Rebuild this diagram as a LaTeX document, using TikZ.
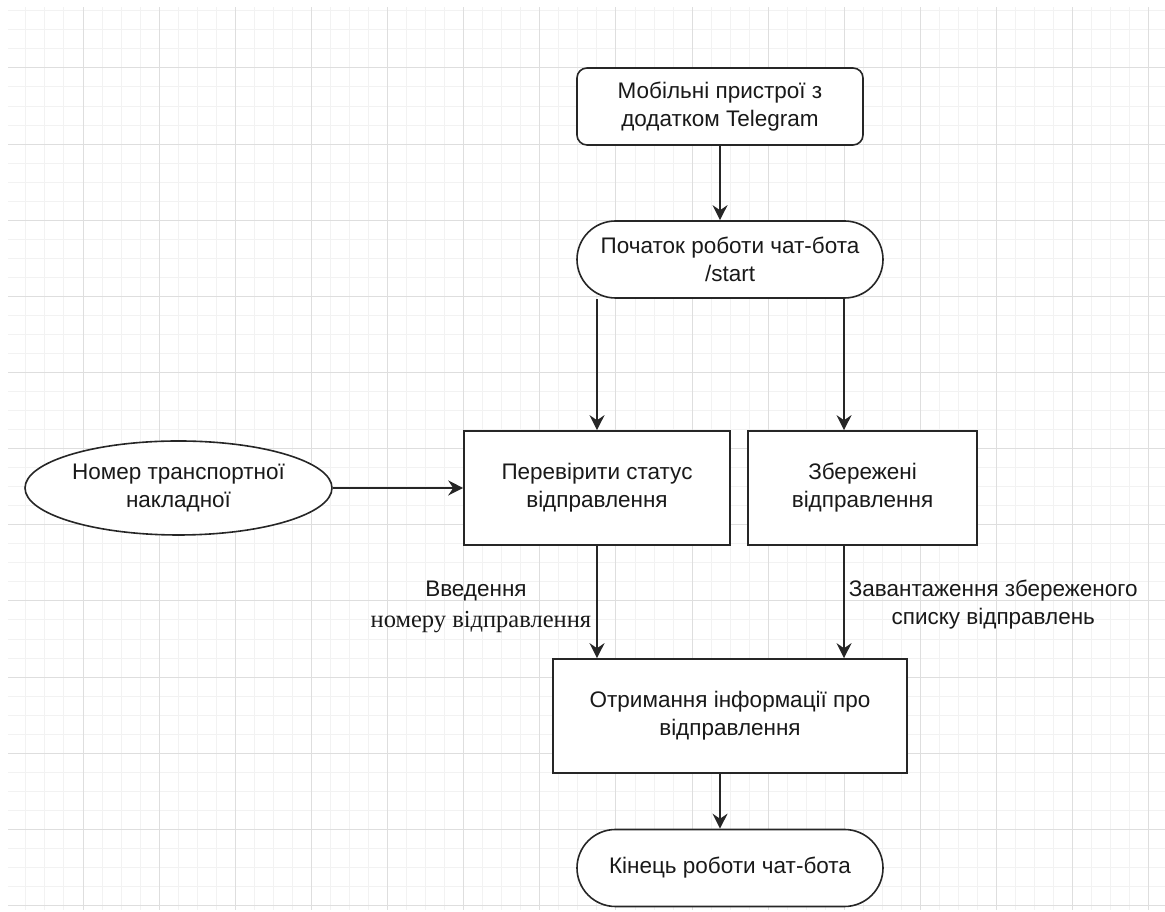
\documentclass[tikz,border=0pt]{standalone}
\usepackage{fontspec}
\setmainfont{Liberation Sans}
\newfontfamily\tnrfont{Liberation Serif}
\usetikzlibrary{arrows.meta, shapes.geometric}

\begin{document}
\begin{tikzpicture}[x=1pt, y=1pt, >={Stealth[length=15pt, width=15pt, inset=5pt]},
    every node/.style={font=\fontsize{22.5}{28}\selectfont, align=center, text=black!90},
    base/.style={draw=black!85, line width=1.6, fill=white, inner sep=0},
    box/.style={base, rectangle},
    term/.style={base, rectangle, rounded corners=38.5},
    link/.style={->, draw=black!85, line width=1.6}]
        \useasboundingbox (0,0) rectangle (1165,912);

        % Grid
        \begin{scope}
            \clip (8,2) rectangle (1165,904);
            \draw[black!5, line width=1, shift={(6.86,6.5)}] (-40,-40) grid[step=19.035pt] (1200,940);
            \draw[black!13, line width=1, shift={(6.86,6.5)}] (-80,-80) grid[step=76.14pt] (1200,940);
        \end{scope}

        % Nodes
        \node[box, rounded corners=10, minimum width=286, minimum height=77] (mob) at (720,805.5) {Мобільні пристрої з\\додатком Telegram};
        \node[term, minimum width=306, minimum height=77] (start) at (730,652.5) {Початок роботи чат-бота\\/start};
        \node[base, ellipse, minimum width=307, minimum height=94] (num) at (178.5,424) {Номер транспортної\\накладної};
        \node[box, minimum width=266, minimum height=114] (check) at (597,424) {Перевірити статус\\відправлення};
        \node[box, minimum width=229, minimum height=114] (saved) at (862.5,424) {Збережені\\відправлення};
        \node[box, minimum width=354, minimum height=114] (info) at (730,196) {Отримання інформації про\\відправлення};
        \node[term, minimum width=306, minimum height=77] (fin) at (730,44) {Кінець роботи чат-бота};
        \coordinate (c1) at (720,0);
        \coordinate (c2) at (844,0);

        % Edges
        \draw[link] (c1 |- mob.south) -- (c1 |- start.north);
        \draw[link] (check |- start.south) -- (check.north);
        \draw[link] (c2 |- start.south) -- (c2 |- saved.north);
        \draw[link] (num.east) -- (check.west);
        \draw[link] (check.south) -- (check.south |- info.north) node[midway, left, inner sep=5, yshift=-5] {Введення\hspace*{10pt}\\[3pt]{\tnrfont\fontsize{24.5}{28}\selectfont номеру відправлення}};
        \draw[link] (c2 |- saved.south) -- (c2 |- info.north) node[midway, right, inner sep=4, yshift=-3] {Завантаження збереженого\\списку відправлень};
        \draw[link] (c1 |- info.south) -- (c1 |- fin.north);
    \end{tikzpicture}
\end{document}
